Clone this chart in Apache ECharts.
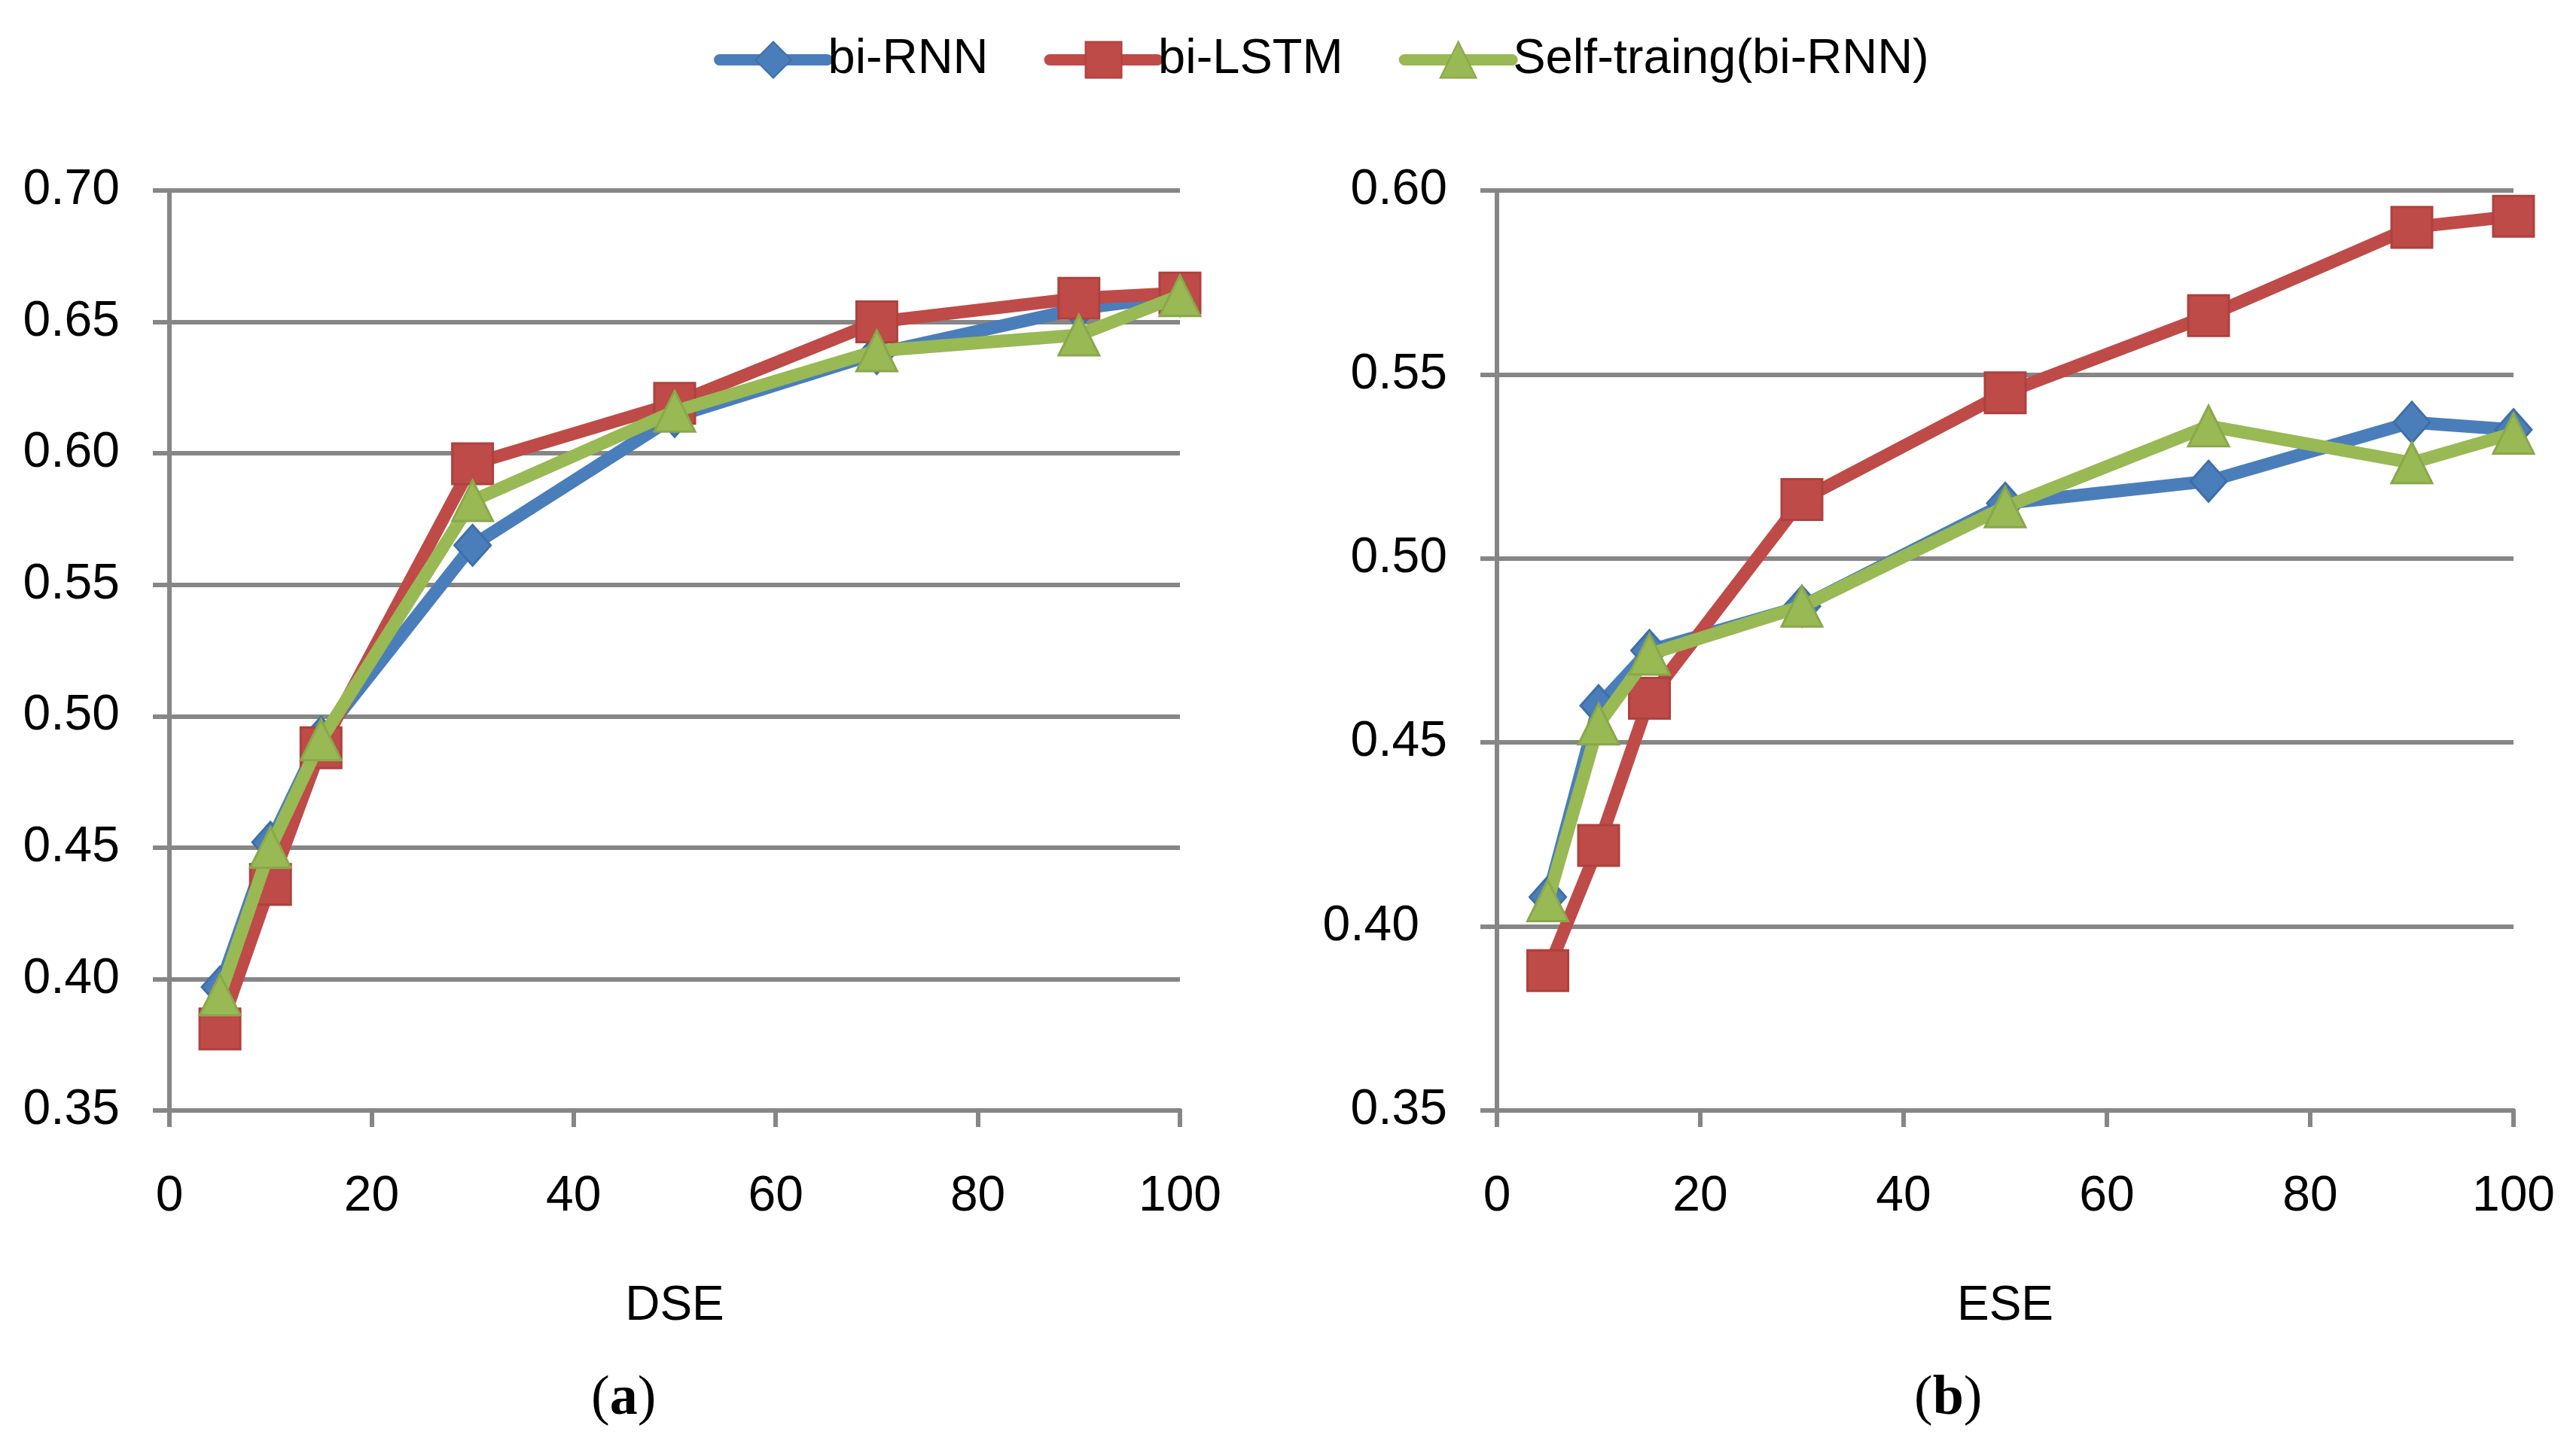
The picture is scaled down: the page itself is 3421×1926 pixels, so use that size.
<!DOCTYPE html>
<html><head><meta charset="utf-8">
<script src="https://cdn.jsdelivr.net/npm/echarts@6/dist/echarts.min.js"></script>
<style>html,body{margin:0;padding:0;background:#fff}#c{width:3421px;height:1926px}</style>
</head><body><div id="c"></div>
<script>
const xValues = [5, 10, 15, 30, 50, 70, 90, 100];
const seriesNames = ['bi-RNN', 'bi-LSTM', 'Self-traing(bi-RNN)'];
const dseRNN  = [0.397, 0.452, 0.492, 0.565, 0.614, 0.638, 0.655, 0.660];
const dseLSTM = [0.381, 0.436, 0.488, 0.596, 0.619, 0.650, 0.659, 0.661];
const dseSelf = [0.394, 0.450, 0.491, 0.582, 0.616, 0.639, 0.645, 0.660];
const eseRNN  = [0.408, 0.460, 0.475, 0.487, 0.515, 0.521, 0.537, 0.535];
const eseLSTM = [0.388, 0.422, 0.462, 0.516, 0.545, 0.566, 0.590, 0.593];
const eseSelf = [0.407, 0.455, 0.474, 0.487, 0.514, 0.536, 0.526, 0.534];
const xTicks = [0, 20, 40, 60, 80, 100];
const panelNames = ['DSE', 'ESE'];
const panelTags = ['a', 'b'];

const colors = ['#4A7EBB', '#BE4B48', '#98B954'];
const borders = ['#3F6FA8', '#AE413E', '#89A84A'];
const symbols = ['diamond', 'rect', 'triangle'];
const symbolSizes = [[48, 54], 54, [54, 54]];
const FONT = '"Liberation Sans Narrow", "Liberation Sans", sans-serif';
const GRAY = '#868686';

function pairs(vals) { return xValues.map((x, i) => [x, vals[i]]); }

const chart = echarts.init(document.getElementById('c'), null, {renderer: 'canvas'});
const grids = [
  {left: 225, right: 1854, top: 253, bottom: 451},
  {left: 1988, right: 83, top: 253, bottom: 451}
];
const yMax = [0.70, 0.60];
const xAxes = grids.map((g, i) => ({
  type: 'value', gridIndex: i, min: 0, max: 100, interval: 20,
  name: panelNames[i], nameLocation: 'middle', nameGap: 228,
  nameTextStyle: {fontFamily: FONT, fontSize: 64, color: '#000'},
  axisLine: {show: true, lineStyle: {color: GRAY, width: 6}},
  axisTick: {show: true, inside: false, length: 22, lineStyle: {color: GRAY, width: 6}},
  axisLabel: {fontFamily: FONT, fontSize: 66, color: '#000', margin: 82},
  splitLine: {show: false}
}));
const yAxes = grids.map((g, i) => ({
  type: 'value', gridIndex: i, min: 0.35, max: yMax[i], interval: 0.05,
  axisLine: {show: true, lineStyle: {color: GRAY, width: 6}},
  axisTick: {show: true, inside: false, length: 22, lineStyle: {color: GRAY, width: 6}},
  axisLabel: {fontFamily: FONT, fontSize: 66, color: '#000', margin: 66,
    formatter: v => (i === 1 && Math.abs(v - 0.40) < 1e-9) ? '{o|' + v.toFixed(2) + '}' : v.toFixed(2),
    rich: {o: {fontFamily: FONT, fontSize: 66, color: '#000', padding: [0, 37, 0, 0]}}},
  splitLine: {show: true, lineStyle: {color: GRAY, width: 6}}
}));
const data = [[dseRNN, dseLSTM, dseSelf], [eseRNN, eseLSTM, eseSelf]];
const series = [];
data.forEach((panel, p) => {
  panel.forEach((vals, k) => {
    series.push({
      type: 'line', name: seriesNames[k], xAxisIndex: p, yAxisIndex: p,
      data: pairs(vals), symbol: symbols[k], symbolSize: symbolSizes[k],
      showAllSymbol: true, animation: false, z: 2 + k,
      itemStyle: {color: colors[k], borderColor: borders[k], borderWidth: 3},
      lineStyle: {color: colors[k], width: 17}
    });
  });
});
chart.setOption({
  backgroundColor: '#fff',
  animation: false,
  color: colors,
  legend: {
    data: seriesNames, top: 42, left: 943,
    itemWidth: 143, itemHeight: 60, itemGap: 74,
    lineStyle: {width: 15, cap: 'round'},
    textStyle: {fontFamily: FONT, fontSize: 65, color: '#000', padding: [0, 0, 0, -4]}
  },
  grid: grids,
  xAxis: xAxes,
  yAxis: yAxes,
  series: series,
  graphic: panelTags.map((t, i) => ({
    type: 'text', left: [785, 2542][i], top: 1822,
    style: {
      text: '(' + '{b|' + t + '})',
      fontFamily: '"Liberation Serif", serif', fontSize: 74, fill: '#000',
      rich: {b: {fontFamily: '"Liberation Serif", serif', fontSize: 74, fontWeight: 'bold', fill: '#000'}}
    }
  }))
});
</script></body></html>
